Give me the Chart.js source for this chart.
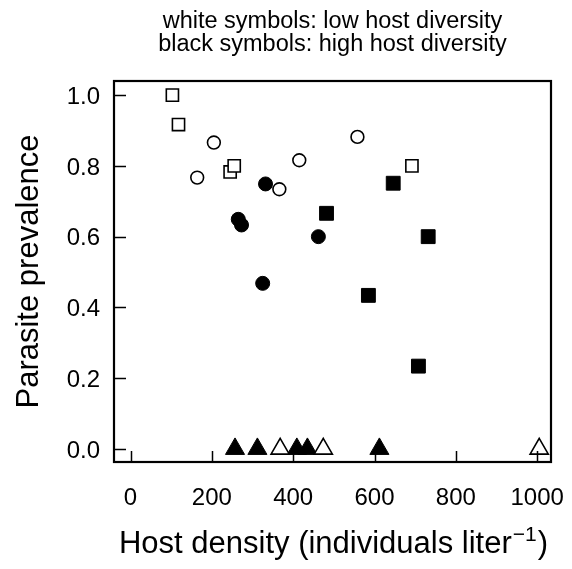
<!DOCTYPE html>
<html>
<head>
<meta charset="utf-8">
<script src="https://cdn.jsdelivr.net/npm/chart.js@4.4.1/dist/chart.umd.min.js"></script>
<style>
  html, body { margin: 0; padding: 0; background: #fff; }
  #wrap { width: 572px; height: 569px; }
</style>
</head>
<body>
<div id="wrap"><canvas id="chart"></canvas></div>
<script>
// axis ticks
const xTicks = [0, 200, 400, 600, 800, 1000];
const yTicks = [0.0, 0.2, 0.4, 0.6, 0.8, 1.0];

// white symbols: low host diversity
const lowSquareX = [103, 118, 245, 255, 692];
const lowSquareY = [1.0, 0.917, 0.783, 0.80, 0.80];
const lowCircleX = [164, 205, 366, 415, 558];
const lowCircleY = [0.767, 0.866, 0.734, 0.816, 0.882];
const lowTriX = [368, 474, 1005];
const lowTriY = [0, 0, 0];

// black symbols: high host diversity
const highSquareX = [482, 585, 646, 708, 732];
const highSquareY = [0.666, 0.434, 0.751, 0.234, 0.60];
const highCircleX = [265, 273, 325, 332, 462];
const highCircleY = [0.649, 0.633, 0.468, 0.749, 0.60];
const highTriX = [257, 312, 409, 435, 612];
const highTriY = [0, 0, 0, 0, 0];

const titleLines = ['white symbols: low host diversity', 'black symbols: high host diversity'];
const yTitle = 'Parasite prevalence';
const FONT = '"Liberation Sans", Arial, Helvetica, sans-serif';

const pts = (xs, ys) => xs.map((x, i) => ({ x: x, y: ys[i] }));

const open = (style, r, xs, ys) => ({
    data: pts(xs, ys), pointStyle: style, pointRadius: r, pointHoverRadius: r,
    backgroundColor: '#fff', borderColor: '#000', borderWidth: 1.6
});
const filled = (style, r, xs, ys) => ({
    data: pts(xs, ys), pointStyle: style, pointRadius: r, pointHoverRadius: r,
    backgroundColor: '#000', borderColor: '#000', borderWidth: 1
});

// box, inward ticks, tick labels and titles
const framePlugin = {
    id: 'frame',
    afterDatasetsDraw(chart) {
        const ctx = chart.ctx;
        const a = chart.chartArea;
        const xs = chart.scales.x, ys = chart.scales.y;
        ctx.save();
        ctx.strokeStyle = '#000';
        ctx.fillStyle = '#000';

        // ticks
        ctx.lineWidth = 1.5;
        ctx.beginPath();
        xTicks.forEach(v => {
            const px = Math.round(xs.getPixelForValue(v)) + 0.5;
            ctx.moveTo(px, a.bottom);
            ctx.lineTo(px, a.bottom - 11);
        });
        yTicks.forEach(v => {
            const py = Math.round(ys.getPixelForValue(v)) + 0.5;
            ctx.moveTo(a.left, py);
            ctx.lineTo(a.left + 12, py);
        });
        ctx.stroke();

        // box
        ctx.lineWidth = 2.2;
        ctx.strokeRect(a.left, a.top, a.right - a.left, a.bottom - a.top);

        // tick labels
        ctx.font = '24px ' + FONT;
        ctx.textAlign = 'center';
        ctx.textBaseline = 'alphabetic';
        xTicks.forEach(v => ctx.fillText(String(v), xs.getPixelForValue(v), 505));
        ctx.textAlign = 'right';
        yTicks.forEach(v => ctx.fillText(v.toFixed(1), 100, ys.getPixelForValue(v) + 8.6));

        // title
        const cx = (a.left + a.right) / 2;
        ctx.font = '23.5px ' + FONT;
        ctx.textAlign = 'center';
        ctx.fillText(titleLines[0], cx, 28);
        ctx.fillText(titleLines[1], cx, 51);

        // y title
        ctx.save();
        ctx.translate(38, (a.top + a.bottom) / 2);
        ctx.rotate(-Math.PI / 2);
        ctx.font = '31px ' + FONT;
        ctx.fillText(yTitle, 0, 0);
        ctx.restore();

        // x title with superscript
        const main = 'Host density (individuals liter';
        const sup = '\u22121';
        const tail = ')';
        ctx.textAlign = 'left';
        ctx.font = '31px ' + FONT;
        const wMain = ctx.measureText(main).width;
        const wTail = ctx.measureText(tail).width;
        ctx.font = '21px ' + FONT;
        const wSup = ctx.measureText(sup).width;
        let x0 = cx - (wMain + wSup + wTail) / 2;
        const base = 553;
        ctx.font = '31px ' + FONT;
        ctx.fillText(main, x0, base);
        ctx.font = '21px ' + FONT;
        ctx.fillText(sup, x0 + wMain + 1, base - 12);
        ctx.font = '31px ' + FONT;
        ctx.fillText(tail, x0 + wMain + wSup + 2, base);
        ctx.restore();
    }
};

new Chart(document.getElementById('chart').getContext('2d'), {
    type: 'scatter',
    data: {
        datasets: [
            open('triangle', 10.5, lowTriX, lowTriY),
            filled('triangle', 11, highTriX, highTriY),
            open('rect', 8.6, lowSquareX, lowSquareY),
            open('circle', 6.4, lowCircleX, lowCircleY),
            filled('rect', 9.8, highSquareX, highSquareY),
            filled('circle', 7, highCircleX, highCircleY)
        ]
    },
    options: {
        responsive: true,
        maintainAspectRatio: false,
        animation: false,
        clip: false,
        layout: { padding: { left: 114, right: 21, top: 81, bottom: 107 } },
        scales: {
            x: { type: 'linear', min: -40.6, max: 1034, display: false },
            y: { type: 'linear', min: -0.037, max: 1.04, display: false }
        },
        plugins: { legend: { display: false }, tooltip: { enabled: false } }
    },
    plugins: [framePlugin]
});
</script>
</body>
</html>
